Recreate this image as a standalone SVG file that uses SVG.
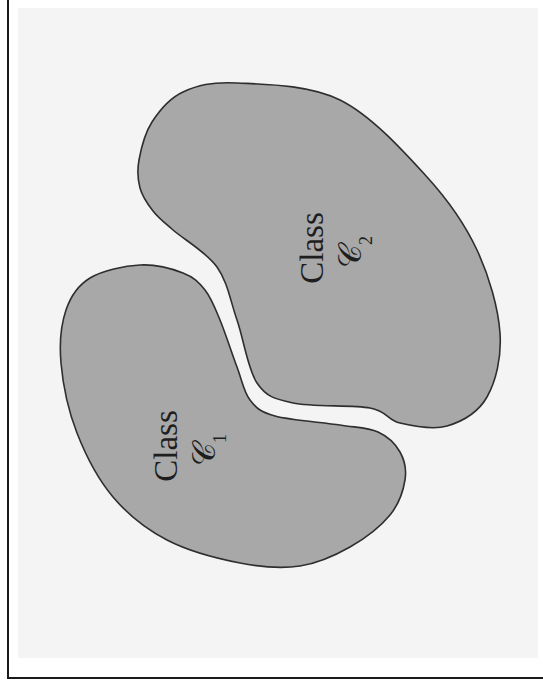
<svg xmlns="http://www.w3.org/2000/svg" width="543" height="691" viewBox="0 0 543 691">
  <style>
    .blob { fill: #a8a8a8; stroke: #2e2e2e; stroke-width: 1.6; }
    .lbl { font-family: "Liberation Serif", "DejaVu Serif", serif; font-size: 33px; fill: #1e1e1e; }
    .scr { font-family: "DejaVu Serif", "DejaVu Sans", "Liberation Serif", serif; font-size: 32px; fill: #1e1e1e; }
    .sub { font-family: "Liberation Serif", serif; font-size: 18px; }
  </style>
  <rect x="0" y="0" width="543" height="691" fill="#ffffff"/>
  <rect x="18" y="8" width="520" height="650" fill="#f4f4f4"/>
  <path d="M8,0 V678 H543" fill="none" stroke="#1a1a1a" stroke-width="2"/>
  <g id="class2">
    <path class="blob" d="M237,83 C263.2,84.3 308.3,84.3 340,100 C371.7,115.7 404.2,152 427,177 C449.8,202 464.8,224 477,250 C489.2,276 498.3,308.5 500,333 C501.7,357.5 495.8,381.5 487,397 C478.2,412.5 461.5,421.7 447,426 C432.5,430.3 412.8,426 400,423 C387.2,420 387.8,411.3 370,408 C352.2,404.7 311.8,407.2 293,403 C274.2,398.8 266.3,396.8 257,383 C247.7,369.2 243.7,339.3 237,320 C230.3,300.7 227.7,282 217,267 C206.3,252 183.7,239.3 173,230 C162.3,220.7 158.5,218 153,211 C147.5,204 142.3,196.5 140,188 C137.7,179.5 137,171 139,160 C141,149 144.7,133.3 152,122 C159.3,110.7 168.8,98.5 183,92 C197.2,85.5 210.8,81.7 237,83 Z"/>
    <text class="lbl" text-anchor="middle" transform="translate(323,248) rotate(-90)">Class</text>
    <text class="scr" text-anchor="middle" transform="translate(361,252) rotate(-90)">𝒞<tspan class="sub" dy="11">2</tspan></text>
  </g>
  <g id="class1">
    <path class="blob" d="M140,265 C155.5,264.2 172.2,268.8 183,273 C193.8,277.2 198.8,282.2 205,290 C211.2,297.8 214.7,307.2 220,320 C225.3,332.8 232,353.7 237,367 C242,380.3 243.7,391.8 250,400 C256.3,408.2 260,411.8 275,416 C290,420.2 322.8,422.3 340,425 C357.2,427.7 368,427.5 378,432 C388,436.5 395.5,444 400,452 C404.5,460 406.7,469.5 405,480 C403.3,490.5 399.2,503.8 390,515 C380.8,526.2 365,538.5 350,547 C335,555.5 318.3,563.3 300,566 C281.7,568.7 262.2,567.3 240,563 C217.8,558.7 188.2,551 167,540 C145.8,529 128,514.8 113,497 C98,479.2 85.7,455.3 77,433 C68.3,410.7 62.8,383.5 61,363 C59.2,342.5 61.2,324.2 66,310 C70.8,295.8 77.7,285.5 90,278 C102.3,270.5 124.5,265.8 140,265 Z"/>
    <text class="lbl" text-anchor="middle" transform="translate(177,446) rotate(-90)">Class</text>
    <text class="scr" text-anchor="middle" transform="translate(215,450) rotate(-90)">𝒞<tspan class="sub" dy="11">1</tspan></text>
  </g>
</svg>
